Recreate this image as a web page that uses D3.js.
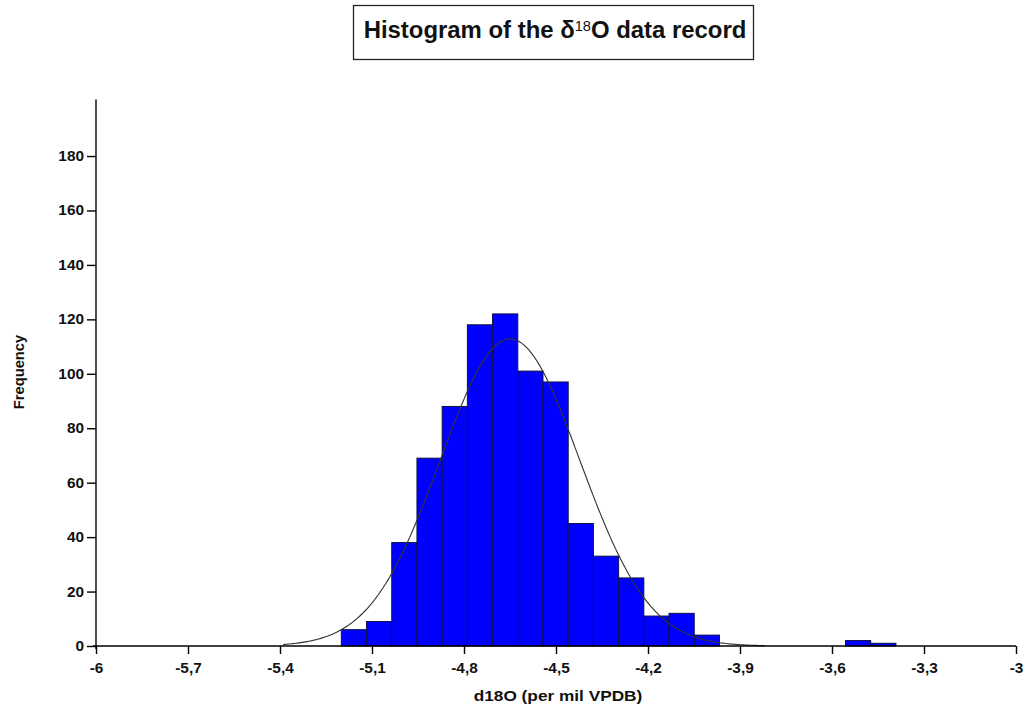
<!DOCTYPE html>
<html>
<head>
<meta charset="utf-8">
<script src="https://cdn.jsdelivr.net/npm/d3@7"></script>
<style>
  html, body { margin: 0; padding: 0; background: #fff; }
  svg { display: block; font-family: "Liberation Sans", Arial, sans-serif; }
</style>
</head>
<body>
<svg id="chart" width="1026" height="705"></svg>
<script>
// Histogram bins: left edge of the first bin and the common bin width (per mil)
const binStart = -5.2;
const binWidth = 0.0822;
// Counts per bin, left to right
const counts = [6, 9, 38, 69, 88, 118, 122, 101, 97, 45, 33, 25, 11, 12, 4, 0, 0, 0, 0, 0, 2, 1];

// Fitted normal curve parameters
const fitMean = -4.65;
const fitSd = 0.227;
const fitFrom = -5.39;
const fitTo = -3.82;

// Axis ticks
const xTicks = [-6, -5.7, -5.4, -5.1, -4.8, -4.5, -4.2, -3.9, -3.6, -3.3, -3];
const yTicks = [0, 20, 40, 60, 80, 100, 120, 140, 160, 180];

const svg = d3.select("#chart");

const x = d3.scaleLinear().domain([-6, -3]).range([96, 1016]);
const y = d3.scaleLinear().domain([0, 200]).range([646, 101.6]);

const bins = counts.map((c, i) => ({
  x0: binStart + i * binWidth,
  x1: binStart + (i + 1) * binWidth,
  n: c
}));

// Bars
svg.append("g")
  .selectAll("rect")
  .data(bins.filter(d => d.n > 0))
  .join("rect")
  .attr("x", d => x(d.x0))
  .attr("y", d => y(d.n))
  .attr("width", d => x(d.x1) - x(d.x0))
  .attr("height", d => y(0) - y(d.n))
  .attr("fill", "#0000ff")
  .attr("stroke", "#10104a")
  .attr("stroke-width", 1);

// Normal curve scaled to the histogram (N * bin width * pdf)
const total = d3.sum(counts);
const pdf = v => Math.exp(-0.5 * ((v - fitMean) / fitSd) ** 2) / (fitSd * Math.sqrt(2 * Math.PI));
const curvePts = d3.range(0, 301).map(i => {
  const v = fitFrom + (fitTo - fitFrom) * i / 300;
  return [v, total * binWidth * pdf(v)];
});
svg.append("path")
  .datum(curvePts)
  .attr("fill", "none")
  .attr("stroke", "#333")
  .attr("stroke-width", 1.1)
  .attr("d", d3.line().x(d => x(d[0])).y(d => y(d[1])));

// Axes
const fmt = d => String(d).replace(".", ",");
const xAxis = svg.append("g")
  .attr("transform", `translate(0,${y(0)})`)
  .call(d3.axisBottom(x).tickValues(xTicks).tickFormat(fmt).tickSize(8).tickSizeOuter(0).tickPadding(9));
const yAxis = svg.append("g")
  .attr("transform", `translate(${x(-6)},0)`)
  .call(d3.axisLeft(y).tickValues(yTicks).tickSize(9).tickSizeOuter(0).tickPadding(3));

yAxis.select(".domain").attr("d", `M0,${y(0) + 3}V${y(200) - 2}`);
xAxis.select(".domain").attr("d", `M${x(-6) - 3},0H${x(-3)}`);

[xAxis, yAxis].forEach(g => {
  g.selectAll(".domain, .tick line").attr("stroke", "#000").attr("stroke-width", 1.4);
  g.selectAll(".tick text")
    .attr("fill", "#111")
    .style("font-size", "14px")
    .style("font-weight", "bold");
});
// Slightly widened tick labels
xAxis.selectAll(".tick text").attr("transform", "scale(1.1,1)");
yAxis.selectAll(".tick text").attr("transform", "scale(1.1,1)").attr("x", -12 / 1.1);

// Axis titles
svg.append("text")
  .attr("transform", "translate(558,701) scale(1.15,1)")
  .attr("text-anchor", "middle")
  .style("font-size", "15px").style("font-weight", "bold")
  .attr("fill", "#111")
  .text("d18O (per mil VPDB)");

svg.append("text")
  .attr("transform", "translate(24,372) rotate(-90) scale(1.05,1)")
  .attr("text-anchor", "middle")
  .style("font-size", "14px").style("font-weight", "bold")
  .attr("fill", "#111")
  .text("Frequency");

// Boxed title
svg.append("rect")
  .attr("x", 353.5).attr("y", 5.5)
  .attr("width", 400).attr("height", 54)
  .attr("fill", "#fff").attr("stroke", "#222").attr("stroke-width", 1.3);

const title = svg.append("text")
  .attr("transform", "translate(555,38) scale(1.04,1)")
  .attr("text-anchor", "middle")
  .style("font-size", "23px").style("font-weight", "bold")
  .attr("fill", "#111");
title.append("tspan").text("Histogram of the δ");
title.append("tspan").attr("dy", -7).style("font-size", "14px").style("font-weight", "normal").text("18");
title.append("tspan").attr("dy", 7).text("O data record");
</script>
</body>
</html>
